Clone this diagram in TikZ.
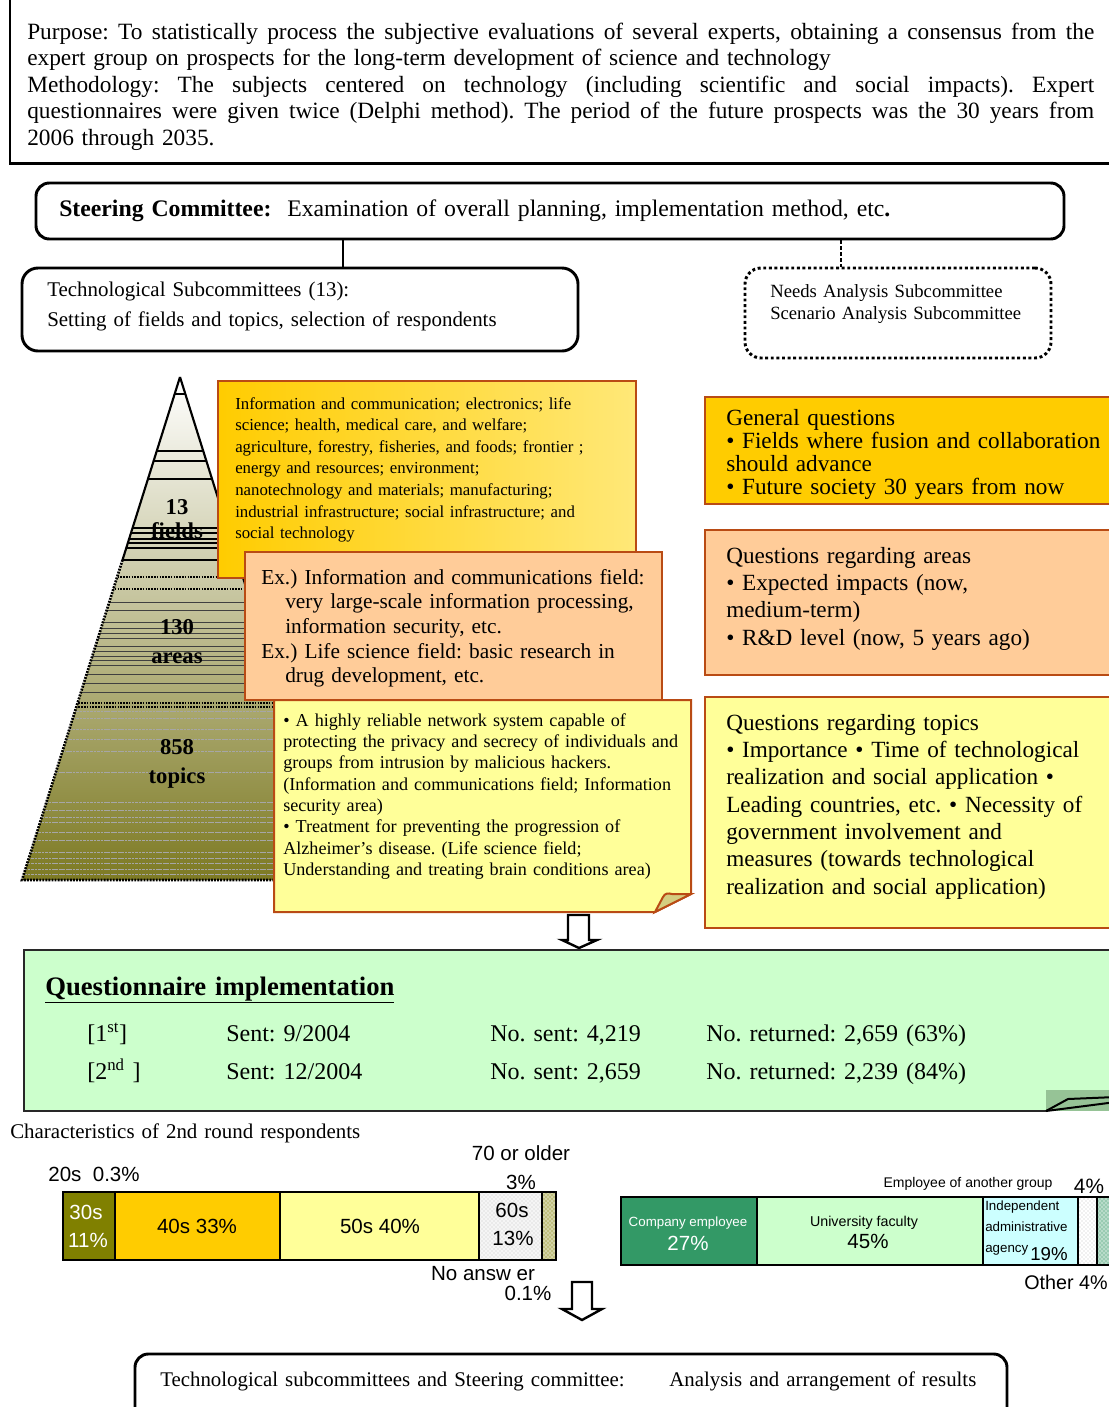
\documentclass[tikz,border=0pt]{standalone}
\usepackage{fontspec}
\setmainfont{Liberation Serif}
\newfontfamily\arialf{Liberation Sans}
\usetikzlibrary{fit,patterns}
\newcommand\fsz[2]{\fontsize{#1pt}{#2pt}\selectfont}
% one justified line of the given width
\newcommand\jline[2]{\makebox[#1][s]{\spaceskip=.25em plus 3em minus .05em\relax #2}}
\lineskiplimit=-100pt
\definecolor{gold}{RGB}{255,204,0}
\definecolor{goldpale}{RGB}{255,232,120}
\definecolor{peach}{RGB}{255,204,153}
\definecolor{paleyel}{RGB}{255,255,153}
\definecolor{palegrn}{RGB}{204,255,204}
\definecolor{brd}{RGB}{185,75,20}
\definecolor{olivebar}{RGB}{128,128,0}
\definecolor{compgrn}{RGB}{51,153,102}
\definecolor{palecyan}{RGB}{204,255,255}
\definecolor{pyrbot}{RGB}{125,122,35}
\definecolor{pyrmid}{RGB}{218,217,200}
\definecolor{curlyel}{RGB}{212,206,128}
\definecolor{curlgrn}{RGB}{150,195,150}
\definecolor{qborder}{RGB}{40,40,40}
\begin{document}
\frenchspacing
\begin{tikzpicture}[x=0.75pt,y=-0.75pt,
  txt/.style={anchor=base west,inner sep=0pt,text width=#1,align=left},
  txt/.default=600pt,
  lbl/.style={anchor=base,inner sep=0pt,font=\arialf\fsz{#1}{#1}},
  lblw/.style={anchor=base west,inner sep=0pt,font=\arialf\fsz{#1}{#1}},
  frame/.style={fit={#1},inner sep=0pt,draw,line width=2.2pt,rounded corners=10pt},
  qbox/.style={fit={#1},inner sep=0pt,draw=brd,line width=1.5pt},
  seg/.style={draw=black,line width=1.4pt},
  pyr/.style={anchor=base,inner sep=0pt,font=\fsz{17}{20}\bfseries}]
\useasboundingbox (0,0) rectangle (1109,1407);
\clip (0,0) rectangle (1109,1407);

% purpose and methodology
\node[fit={(10,-3) (1116,163)},inner sep=0pt,draw,line width=1.5pt] (purpose) {};
\draw[line width=2.2pt] (purpose.south west) -- (purpose.south east);
\node[txt=800.25pt,font=\fsz{17.5}{19.9}] (purposetext) at (27,39)
 {\jline{800.25pt}{Purpose: To statistically process the subjective evaluations of several experts, obtaining a consensus from the}\\
  expert group on prospects for the long-term development of science and technology\\
  \jline{800.25pt}{Methodology: The subjects centered on technology (including scientific and social impacts). Expert}\\
  \jline{800.25pt}{questionnaires were given twice (Delphi method). The period of the future prospects was the 30 years from}\\
  2006 through 2035.};

% committees
\node[frame={(36,183) (1064,239)}] (steer) {};
\node[txt=1000pt,font=\fsz{17.8}{20}] (steertext) at (59,216)
 {\textbf{Steering Committee:}\ \ Examination of overall planning, implementation method, etc\textbf{.}};
\node[frame={(22,268) (578,351)},rounded corners=12pt] (tech) {};
\node[txt,font=\fsz{15.7}{22.5}] (techtext) at (47,296)
 {Technological Subcommittees (13):\\Setting of fields and topics, selection of respondents};
\node[fit={(745,268) (1051,358)},inner sep=0pt,draw,dotted,line width=2.2pt,rounded corners=12pt] (needs) {};
\node[txt,font=\fsz{14}{16.5}] (needstext) at (770,297)
 {Needs Analysis Subcommittee\\Scenario Analysis Subcommittee};
\coordinate (ja) at (343,0);
\coordinate (jb) at (841,0);
\draw[line width=2pt] (ja |- steer.south) -- (ja |- tech.north);
\draw[line width=2.2pt,dash pattern=on 3pt off 1.5pt] (jb |- steer.south) -- (jb |- needs.north);

% pyramid
\begin{scope}
  \clip (180,377) -- (22,880) -- (338,880) -- cycle;
  \shade[top color=white,middle color=pyrmid,bottom color=pyrbot] (0,377) rectangle (400,880);
  \foreach \yy in {394,451,461,479,528,533,539,543,548,560}
    \draw[line width=0.8pt] (0,\yy) -- (400,\yy);
  \foreach \yy in {577,589,703,707}
    \draw[line width=1.6pt,dash pattern=on 1.2pt off 0.9pt] (0,\yy) -- (400,\yy);
  \foreach \yy in {602,610,622,628,633,638,646,651,656,660,665,674,683,692}
    \draw[line width=0.6pt,black!75] (0,\yy) -- (400,\yy);
  \foreach \yy in {711,718,729,739,751,772,802,810,817,822,832,840,852,858,863,869,874}
    \draw[line width=0.6pt,black!35,dash pattern=on 2pt off 0.6pt] (0,\yy) -- (400,\yy);
\end{scope}
\draw[line width=1.6pt] (180,377) -- (122.5,560);
\draw[line width=1.6pt] (180,377) -- (338,880);
\draw[line width=2pt,dash pattern=on 1.4pt off 0.9pt] (122.5,560) -- (22,880) -- (338,880);
\node[pyr] (p1) at (177,514) {13};
\node[pyr] (p2) at (177,538) {fields};
\node[pyr] (p3) at (177,634) {130};
\node[pyr] (p4) at (177,663) {areas};
\node[pyr] (p5) at (177,754) {858};
\node[pyr] (p6) at (177,783) {topics};

% example boxes beside the pyramid
\node[qbox={(218,381) (636,578)},left color=gold,right color=goldpale] (fields) {};
\node[txt,font=\fsz{12.6}{16.2}] (fieldstext) at (235,409)
 {Information and communication; electronics; life\\
  science; health, medical care, and welfare;\\
  agriculture, forestry, fisheries, and foods; frontier ;\\
  energy and resources; environment;\\
  nanotechnology and materials; manufacturing;\\
  industrial infrastructure; social infrastructure; and\\
  social technology};
\node[qbox={(245,552) (662,700)},fill=peach] (areas) {};
\node[txt,font=\fsz{16}{18.5}] (areastext) at (261,584)
 {Ex.) Information and communications field:\\
  \hspace*{18pt}very large-scale information processing,\\
  \hspace*{18pt}information security, etc.\\
  Ex.) Life science field: basic research in\\
  \hspace*{18pt}drug development, etc.};
\draw[brd,line width=1.5pt,fill=paleyel] (274,700) -- (691,700) -- (691,894) -- (655,912) -- (274,912) -- cycle;
\draw[brd,line width=1.5pt,fill=curlyel] (655,912) -- (663,897) .. controls (665,893) and (668,893) .. (672,894) -- (691,894) -- cycle;
\node[txt,font=\fsz{13.6}{16}] (topicstext) at (283,726)
 {\textbullet{} A highly reliable network system capable of\\
  protecting the privacy and secrecy of individuals and\\
  groups from intrusion by malicious hackers.\\
  (Information and communications field; Information\\
  security area)\\
  \textbullet{} Treatment for preventing the progression of\\
  Alzheimer's disease. (Life science field;\\
  Understanding and treating brain conditions area)};

% question boxes
\node[qbox={(705,397) (1116,504)},fill=gold] (genq) {};
\node[txt,font=\fsz{17.4}{17.3}] (genqtext) at (726,425)
 {General questions\\
  \textbullet{} Fields where fusion and collaboration\\
  should advance\\
  \textbullet{} Future society 30 years from now};
\node[qbox={(705,530) (1116,675)},fill=peach] (areq) {};
\node[txt,font=\fsz{17.4}{20.5}] (areqtext) at (726,563)
 {Questions regarding areas\\
  \textbullet{} Expected impacts (now,\\
  medium-term)\\
  \textbullet{} R\&D level (now, 5 years ago)};
\node[qbox={(705,697) (1116,928)},fill=paleyel] (topq) {};
\node[txt,font=\fsz{17.4}{20.5}] (topqtext) at (726,730)
 {Questions regarding topics\\
  \textbullet{} Importance \textbullet{} Time of technological\\
  realization and social application \textbullet\\
  Leading countries, etc. \textbullet{} Necessity of\\
  government involvement and\\
  measures (towards technological\\
  realization and social application)};

% hollow arrows
\draw[line width=1.8pt,fill=white] (568,915) -- (589,915) -- (589,940) -- (597,940) -- (579,948) -- (562,940) -- (568,940) -- cycle;

% questionnaire implementation
\fill[palegrn] (24,950) rectangle (1116,1111);
\fill[curlgrn] (1046,1090) rectangle (1116,1111);
\draw[qborder,line width=1.8pt] (1116,950) -- (24,950) -- (24,1111) -- (1046,1111);
\draw[line width=1.5pt] (1046,1111) -- (1068,1099) -- (1116,1097);
\draw[line width=1.5pt] (1046,1111) -- (1116,1102);
\node[txt,font=\fsz{20}{22}\bfseries] (qtitle) at (45,995) {\underline{Questionnaire implementation}};
\node[txt,font=\fsz{18}{20}] (r1a) at (87,1041) {[1\textsuperscript{st}]};
\node[txt,font=\fsz{18}{20}] (r1b) at (226,1041) {Sent: 9/2004};
\node[txt,font=\fsz{18}{20}] (r1c) at (490,1041) {No. sent: 4,219};
\node[txt,font=\fsz{18}{20}] (r1d) at (706,1041) {No. returned: 2,659 (63\%)};
\node[txt,font=\fsz{18}{20}] (r2a) at (87,1079) {[2\textsuperscript{nd} ]};
\node[txt,font=\fsz{18}{20}] (r2b) at (226,1079) {Sent: 12/2004};
\node[txt,font=\fsz{18}{20}] (r2c) at (490,1079) {No. sent: 2,659};
\node[txt,font=\fsz{18}{20}] (r2d) at (706,1079) {No. returned: 2,239 (84\%)};

% respondents
\node[txt,font=\fsz{15.7}{18}] (charact) at (10,1138) {Characteristics of 2nd round respondents};

% age bar
\fill[olivebar] (63,1192) rectangle (115,1260);
\fill[gold] (115,1192) rectangle (280,1260);
\fill[paleyel] (280,1192) rectangle (479,1260);
\fill[gray!8] (479,1192) rectangle (542,1260);
\fill[pattern=crosshatch dots,pattern color=gray!45] (479,1192) rectangle (542,1260);
\fill[olivebar!35] (542,1192) rectangle (556,1260);
\fill[pattern=crosshatch dots,pattern color=olivebar] (542,1192) rectangle (556,1260);
\draw[seg] (63,1192) rectangle (556,1260);
\foreach \xx in {115,280,479,542} \draw[seg] (\xx,1192) -- (\xx,1260);
\node[lbl=15.4] (a20) at (94,1181) {20s\ \ 0.3\%};
\node[lbl=15.4,text=white] (a30) at (86,1219.5) {30s};
\node[lbl=15.4,text=white] (a30p) at (88,1247.5) {11\%};
\node[lbl=15.4] (a40) at (197,1233.5) {40s 33\%};
\node[lbl=15.4] (a50) at (380,1233.5) {50s 40\%};
\node[lbl=15.4] (a60) at (512,1217.5) {60s};
\node[lbl=15.4] (a60p) at (513,1245.5) {13\%};
\node[lbl=15.4] (a70) at (521,1160.5) {70 or older};
\node[lbl=15.4] (a70p) at (521,1189.5) {3\%};
\node[lbl=15.4] (ana) at (483,1280.5) {No answ er};
\node[lbl=15.4] (anap) at (528,1300.5) {0.1\%};

\draw[line width=1.8pt,fill=white] (572,1282) -- (592,1282) -- (592,1309) -- (602,1309) -- (582,1320) -- (562,1309) -- (572,1309) -- cycle;

% occupation bar
\fill[compgrn] (621,1197) rectangle (757,1265);
\fill[palegrn] (757,1197) rectangle (983,1265);
\fill[palecyan] (983,1197) rectangle (1078,1265);
\fill[white] (1078,1197) rectangle (1097,1265);
\fill[pattern=crosshatch dots,pattern color=gray!45] (1078,1197) rectangle (1097,1265);
\fill[compgrn!35] (1097,1197) rectangle (1116,1265);
\fill[pattern=crosshatch dots,pattern color=compgrn] (1097,1197) rectangle (1116,1265);
\draw[seg] (621,1197) rectangle (1120,1265);
\foreach \xx in {757,983,1078,1097} \draw[seg] (\xx,1197) -- (\xx,1265);
\node[lbl=10,text=white] (o1) at (688,1226) {Company employee};
\node[lbl=15.4,text=white] (o1p) at (688,1250.5) {27\%};
\node[lbl=10.7] (o2) at (864,1226) {University faculty};
\node[lbl=15.4] (o2p) at (868,1248.5) {45\%};
\node[lblw=10] (o3a) at (985,1210) {Independent};
\node[lblw=10] (o3b) at (985,1231) {administrative};
\node[lblw=10] (o3c) at (985,1252) {agency};
\node[lblw=14] (o3p) at (1030,1260) {19\%};
\node[lbl=10.5] (o4) at (968,1187) {Employee of another group};
\node[lbl=15.6] (o4p) at (1089,1193) {4\%};
\node[lblw=14.8] (o5) at (1024,1289) {Other 4\%};

% closing stage
\node[frame={(135,1354) (1007,1430)}] (final) {};
\node[txt,font=\fsz{15.65}{18}] (finala) at (160,1386) {Technological subcommittees and Steering committee:};
\node[txt,font=\fsz{15.65}{18}] (finalb) at (669,1386) {Analysis and arrangement of results};
\end{tikzpicture}
\end{document}
